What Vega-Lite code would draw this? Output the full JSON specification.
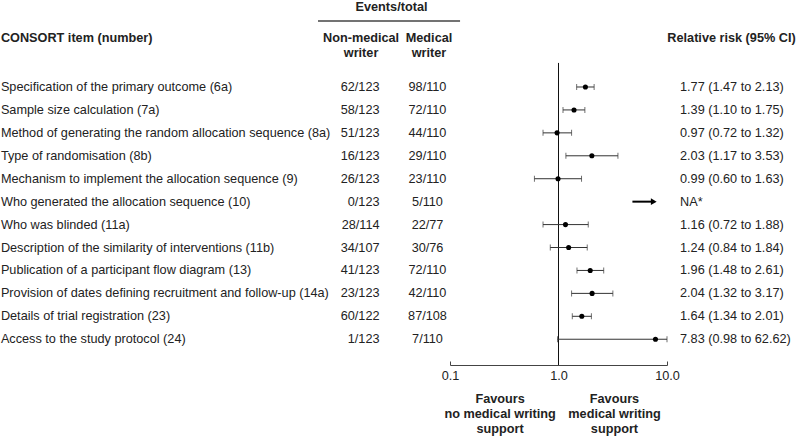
{
  "$schema": "https://vega.github.io/schema/vega-lite/v6.json",
  "padding": 0,
  "spacing": 0,
  "bounds": "flush",
  "datasets": {
    "rows": [
      {"row": 1, "item": "Specification of the primary outcome (6a)", "nonmed": "62/123", "med": "98/110", "rr": 1.77, "lo": 1.47, "hi": 2.13, "rrtext": "1.77 (1.47 to 2.13)"},
      {"row": 2, "item": "Sample size calculation (7a)", "nonmed": "58/123", "med": "72/110", "rr": 1.39, "lo": 1.10, "hi": 1.75, "rrtext": "1.39 (1.10 to 1.75)"},
      {"row": 3, "item": "Method of generating the random allocation sequence (8a)", "nonmed": "51/123", "med": "44/110", "rr": 0.97, "lo": 0.72, "hi": 1.32, "rrtext": "0.97 (0.72 to 1.32)"},
      {"row": 4, "item": "Type of randomisation (8b)", "nonmed": "16/123", "med": "29/110", "rr": 2.03, "lo": 1.17, "hi": 3.53, "rrtext": "2.03 (1.17 to 3.53)"},
      {"row": 5, "item": "Mechanism to implement the allocation sequence (9)", "nonmed": "26/123", "med": "23/110", "rr": 0.99, "lo": 0.60, "hi": 1.63, "rrtext": "0.99 (0.60 to 1.63)"},
      {"row": 6, "item": "Who generated the allocation sequence (10)", "nonmed": "0/123", "med": "5/110", "rr": null, "lo": null, "hi": null, "rrtext": "NA*"},
      {"row": 7, "item": "Who was blinded (11a)", "nonmed": "28/114", "med": "22/77", "rr": 1.16, "lo": 0.72, "hi": 1.88, "rrtext": "1.16 (0.72 to 1.88)"},
      {"row": 8, "item": "Description of the similarity of interventions (11b)", "nonmed": "34/107", "med": "30/76", "rr": 1.24, "lo": 0.84, "hi": 1.84, "rrtext": "1.24 (0.84 to 1.84)"},
      {"row": 9, "item": "Publication of a participant flow diagram (13)", "nonmed": "41/123", "med": "72/110", "rr": 1.96, "lo": 1.48, "hi": 2.61, "rrtext": "1.96 (1.48 to 2.61)"},
      {"row": 10, "item": "Provision of dates defining recruitment and follow-up (14a)", "nonmed": "23/123", "med": "42/110", "rr": 2.04, "lo": 1.32, "hi": 3.17, "rrtext": "2.04 (1.32 to 3.17)"},
      {"row": 11, "item": "Details of trial registration (23)", "nonmed": "60/122", "med": "87/108", "rr": 1.64, "lo": 1.34, "hi": 2.01, "rrtext": "1.64 (1.34 to 2.01)"},
      {"row": 12, "item": "Access to the study protocol (24)", "nonmed": "1/123", "med": "7/110", "rr": 7.83, "lo": 0.98, "hi": 62.62, "rrtext": "7.83 (0.98 to 62.62)"}
    ],
    "arrow": [
      {"row": 6, "from": 4.8, "to": 7.55}
    ]
  },
  "hconcat": [
    {
      "width": 300,
      "height": 438,
      "layer": [
        {
          "data": {"name": "rows"},
          "mark": {"type": "text", "align": "left", "baseline": "middle"},
          "encoding": {
            "x": {"datum": 0.003, "type": "quantitative", "scale": {"domain": [0, 1]}, "axis": null},
            "y": {"field": "row", "type": "quantitative", "scale": {"domain": [-2.794, 16.307], "reverse": true, "nice": false, "zero": false}, "axis": null},
            "text": {"field": "item"}
          }
        },
        {
          "data": {"values": [{"label": "CONSORT item (number)"}]},
          "mark": {"type": "text", "align": "left", "baseline": "middle", "fontWeight": "bold"},
          "encoding": {
            "x": {"datum": 0.003, "type": "quantitative"},
            "y": {"datum": -1.124, "type": "quantitative"},
            "text": {"field": "label"}
          }
        }
      ]
    },
    {
      "width": 150,
      "height": 438,
      "layer": [
        {
          "data": {"name": "rows"},
          "mark": {"type": "text", "align": "right", "baseline": "middle"},
          "encoding": {
            "x": {"datum": 0.53, "type": "quantitative", "scale": {"domain": [0, 1]}, "axis": null},
            "y": {"field": "row", "type": "quantitative", "scale": {"domain": [-2.794, 16.307], "reverse": true, "nice": false, "zero": false}, "axis": null},
            "text": {"field": "nonmed"}
          }
        },
        {
          "data": {"name": "rows"},
          "mark": {"type": "text", "align": "center", "baseline": "middle"},
          "encoding": {
            "x": {"datum": 0.85, "type": "quantitative"},
            "y": {"field": "row", "type": "quantitative"},
            "text": {"field": "med"}
          }
        },
        {
          "data": {"values": [{"label": "Non-medical\nwriter", "pos": 0.407}, {"label": "Medical\nwriter", "pos": 0.86}]},
          "mark": {"type": "text", "align": "center", "baseline": "middle", "fontWeight": "bold", "lineBreak": "\n", "lineHeight": 15},
          "encoding": {
            "x": {"field": "pos", "type": "quantitative"},
            "y": {"datum": -1.124, "type": "quantitative"},
            "text": {"field": "label"}
          }
        },
        {
          "data": {"values": [{"label": "Events/total"}]},
          "mark": {"type": "text", "align": "center", "baseline": "middle", "fontWeight": "bold"},
          "encoding": {
            "x": {"datum": 0.61, "type": "quantitative"},
            "y": {"datum": -2.502, "type": "quantitative"},
            "text": {"field": "label"}
          }
        },
        {
          "data": {"values": [{"from": 0.12, "to": 1.067}]},
          "mark": {"type": "rule", "color": "#444", "strokeWidth": 1.5},
          "encoding": {
            "x": {"field": "from", "type": "quantitative"},
            "x2": {"field": "to"},
            "y": {"datum": -1.878, "type": "quantitative"}
          }
        }
      ]
    },
    {
      "width": 217,
      "height": 438,
      "layer": [
        {
          "data": {"values": [{"rr": 1, "top": -0.05, "bottom": 13.12}]},
          "mark": {"type": "rule", "color": "#111", "strokeWidth": 1},
          "encoding": {
            "x": {"field": "rr", "type": "quantitative", "scale": {"type": "log", "domain": [0.1, 10], "nice": false, "clamp": true},
              "axis": {"values": [0.1, 1, 10], "format": ".1f", "title": null, "offset": -73, "grid": false, "tickSize": -4, "labelPadding": 8, "domainColor": "#444", "tickColor": "#444", "labelFontSize": 12.7, "labelColor": "#222", "labelFont": "Liberation Sans", "labelFlush": false}},
            "y": {"field": "top", "type": "quantitative", "scale": {"domain": [-2.794, 16.307], "reverse": true, "nice": false, "zero": false}, "axis": null},
            "y2": {"field": "bottom"}
          }
        },
        {
          "data": {"name": "rows"},
          "transform": [{"filter": "datum.rr != null"}],
          "mark": {"type": "errorbar", "ticks": {"size": 6, "color": "#333"}, "rule": {"color": "#333", "strokeWidth": 1}},
          "encoding": {
            "x": {"field": "lo", "type": "quantitative", "scale": {"type": "log", "domain": [0.1, 10], "nice": false, "clamp": true}},
            "x2": {"field": "hi"},
            "y": {"field": "row", "type": "quantitative"}
          }
        },
        {
          "data": {"name": "rows"},
          "transform": [{"filter": "datum.rr != null"}],
          "mark": {"type": "point", "filled": true, "color": "#000", "size": 26, "opacity": 1},
          "encoding": {
            "x": {"field": "rr", "type": "quantitative", "scale": {"type": "log", "domain": [0.1, 10], "nice": false, "clamp": true}},
            "y": {"field": "row", "type": "quantitative"}
          }
        },
        {
          "data": {"name": "arrow"},
          "mark": {"type": "rule", "color": "#000", "strokeWidth": 2},
          "encoding": {
            "x": {"field": "from", "type": "quantitative", "scale": {"type": "log", "domain": [0.1, 10], "nice": false, "clamp": true}},
            "x2": {"field": "to"},
            "y": {"field": "row", "type": "quantitative"}
          }
        },
        {
          "data": {"name": "arrow"},
          "mark": {"type": "point", "shape": "triangle-right", "filled": true, "color": "#000", "size": 45, "opacity": 1},
          "encoding": {
            "x": {"field": "to", "type": "quantitative", "scale": {"type": "log", "domain": [0.1, 10], "nice": false, "clamp": true}},
            "y": {"field": "row", "type": "quantitative"}
          }
        },
        {
          "data": {"values": [{"label": "Favours\nno medical writing\nsupport", "pos": 0.29}, {"label": "Favours\nmedical writing\nsupport", "pos": 3.28}]},
          "mark": {"type": "text", "align": "center", "baseline": "middle", "fontWeight": "bold", "lineBreak": "\n", "lineHeight": 15},
          "encoding": {
            "x": {"field": "pos", "type": "quantitative", "scale": {"type": "log", "domain": [0.1, 10], "nice": false, "clamp": true}},
            "y": {"datum": 14.607, "type": "quantitative"},
            "text": {"field": "label"}
          }
        }
      ]
    },
    {
      "width": 133,
      "height": 438,
      "layer": [
        {
          "data": {"name": "rows"},
          "mark": {"type": "text", "align": "left", "baseline": "middle"},
          "encoding": {
            "x": {"datum": 0.098, "type": "quantitative", "scale": {"domain": [0, 1]}, "axis": null},
            "y": {"field": "row", "type": "quantitative", "scale": {"domain": [-2.794, 16.307], "reverse": true, "nice": false, "zero": false}, "axis": null},
            "text": {"field": "rrtext"}
          }
        },
        {
          "data": {"values": [{"label": "Relative risk (95% CI)"}]},
          "mark": {"type": "text", "align": "center", "baseline": "middle", "fontWeight": "bold"},
          "encoding": {
            "x": {"datum": 0.485, "type": "quantitative"},
            "y": {"datum": -1.124, "type": "quantitative"},
            "text": {"field": "label"}
          }
        }
      ]
    }
  ],
  "config": {
    "view": {"stroke": null},
    "text": {"font": "Liberation Sans", "fontSize": 12.7, "color": "#222"},
    "axis": {"labelFont": "Liberation Sans"}
  }
}
